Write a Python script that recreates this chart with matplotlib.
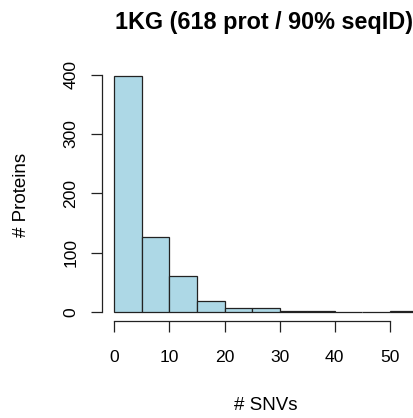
import matplotlib.pyplot as plt
import numpy as np

# === 資料 === #
bin_edges = [0, 5, 10, 15, 20, 25, 30, 35, 40, 45, 50, 55]
counts = [397, 126, 60, 18, 7, 6, 1, 2, 0, 0, 1]
x_ticks = [0, 10, 20, 30, 40, 50]
y_ticks = [0, 100, 200, 300, 400]

plt.rcParams['font.family'] = ['Liberation Sans', 'DejaVu Sans']

fig = plt.figure(figsize=(4.14, 4.18), dpi=100)
W, H = 414, 418
left, right, top, bottom = 101.7, 414, 66.8, 321.4
ax = fig.add_axes([left / W, 1 - bottom / H, (right - left) / W, (bottom - top) / H])

ax.bar(bin_edges[:-1], counts, width=np.diff(bin_edges), align='edge',
       color='#ADD8E6', edgecolor='#222222', linewidth=0.9)

ax.set_xlim(-2.3, 54.4)
ax.set_ylim(-16, 413)
ax.set_xticks(x_ticks)
ax.set_yticks(y_ticks)
ax.set_yticklabels([str(v) for v in y_ticks], rotation=90, va='center')

for s in ['top', 'right']:
    ax.spines[s].set_visible(False)
ax.spines['bottom'].set_bounds(0, 50)
ax.spines['left'].set_bounds(0, 400)
for s in ['bottom', 'left']:
    ax.spines[s].set_linewidth(0.9)
    ax.spines[s].set_color('#222222')
ax.tick_params(axis='both', length=7.7, width=0.9, color='#222222', labelsize=12.6)
ax.tick_params(axis='x', pad=12.7)
ax.tick_params(axis='y', pad=9)

fig.text(264 / W, 1 - 22 / H, '1KG (618 prot / 90% seqID)', ha='center', va='center',
         fontsize=16.8, fontweight='bold')
fig.text(265.5 / W, 1 - 405 / H, '# SNVs', ha='center', va='center', fontsize=13.5)
fig.text(22 / W, 1 - 195 / H, '# Proteins', ha='center', va='center', fontsize=13.5, rotation=90)

plt.savefig('out.png', dpi=100)
plt.close()
